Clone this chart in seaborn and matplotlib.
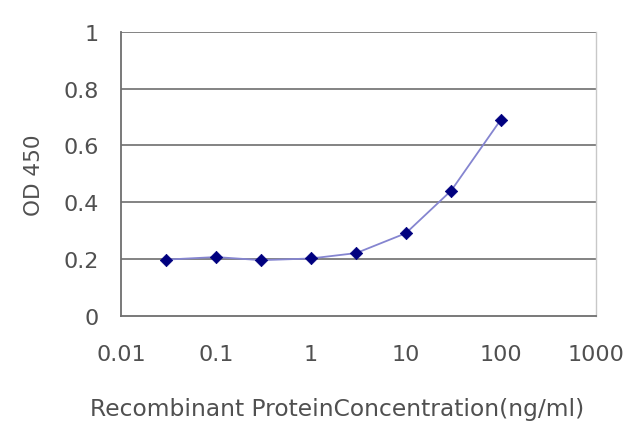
import numpy as np
import pandas as pd
import matplotlib
matplotlib.use('Agg')
import matplotlib.pyplot as plt
import seaborn as sns
from matplotlib.ticker import FixedLocator, FixedFormatter, NullLocator

# Data
concentration = [0.03, 0.1, 0.3, 1, 3, 10, 30, 100]
od450 = [0.198, 0.207, 0.196, 0.202, 0.221, 0.291, 0.441, 0.691]
x_ticks = [0.01, 0.1, 1, 10, 100, 1000]
x_tick_labels = ["0.01", "0.1", "1", "10", "100", "1000"]
y_ticks = [0, 0.2, 0.4, 0.6, 0.8, 1]
y_tick_labels = ["0", "0.2", "0.4", "0.6", "0.8", "1"]

df = pd.DataFrame({"conc": concentration, "od": od450})

sns.set_style("white")
plt.rcParams['font.family'] = ['DejaVu Sans']

text_col = "#505050"

fig = plt.figure(figsize=(6.4, 4.27), dpi=100)
ax = fig.add_axes([0.189, 0.258, 0.742, 0.665])

# horizontal grid
for yv in y_ticks[1:]:
    ax.axhline(yv, color="#7a7a7a", lw=1.3, zorder=1)

sns.lineplot(data=df, x="conc", y="od", ax=ax, color="#8585d0", lw=1.3,
             zorder=3)
sns.scatterplot(data=df, x="conc", y="od", ax=ax, marker="D", s=40,
                color="#00007f", edgecolor="#00007f", zorder=4)

ax.set_xscale("log")
ax.set_xlim(0.01, 1000)
ax.set_ylim(0, 1)
ax.xaxis.set_major_locator(FixedLocator(x_ticks))
ax.xaxis.set_major_formatter(FixedFormatter(x_tick_labels))
ax.xaxis.set_minor_locator(NullLocator())
ax.yaxis.set_major_locator(FixedLocator(y_ticks))
ax.yaxis.set_major_formatter(FixedFormatter(y_tick_labels))

for side in ["left", "bottom"]:
    ax.spines[side].set_color("#6e6e6e")
    ax.spines[side].set_linewidth(1.3)
ax.spines["top"].set_visible(False)
ax.spines["right"].set_color("#c8c8c8")
ax.spines["right"].set_linewidth(1.0)

ax.tick_params(axis="x", direction="in", length=4, width=1, color="#6e6e6e",
               labelsize=16, labelcolor=text_col, pad=20)
ax.tick_params(axis="y", length=0, labelsize=16, labelcolor=text_col, pad=16)

ax.set_xlabel("Recombinant ProteinConcentration(ng/ml)", fontsize=16.8,
              color=text_col)
ax.xaxis.set_label_coords(0.455, -0.285)
ax.set_ylabel("OD 450", fontsize=15.5, color=text_col)
ax.yaxis.set_label_coords(-0.162, 0.5)

fig.savefig("out.png", dpi=100)
